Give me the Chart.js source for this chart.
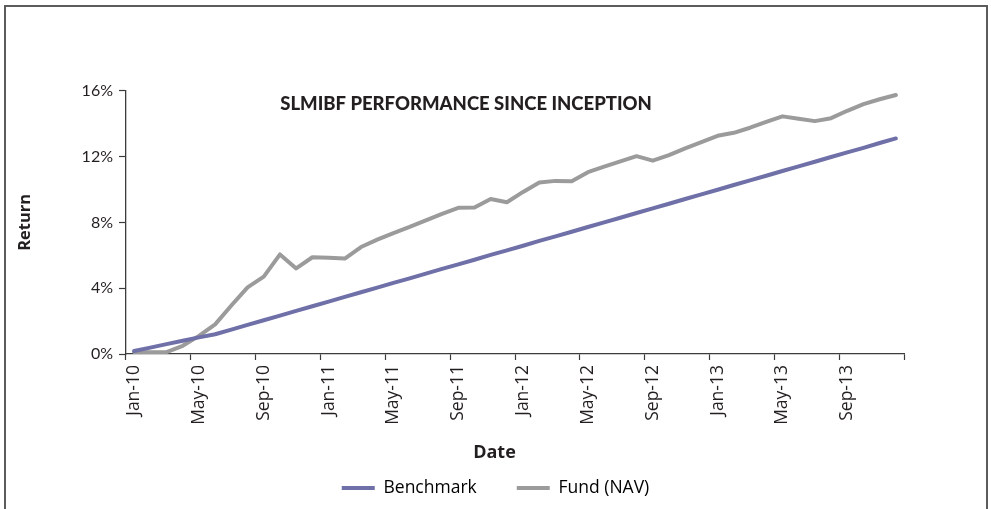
<!DOCTYPE html>
<html>
<head>
<meta charset="utf-8">
<script src="https://cdn.jsdelivr.net/npm/chart.js@4.4.1/dist/chart.umd.min.js"></script>
<style>
html,body{margin:0;padding:0;background:#fff;}
#wrap{position:relative;width:991px;height:509px;overflow:hidden;background:#fff;}
#frame{position:absolute;left:4px;top:5px;width:980px;height:520px;border:2px solid #5c5c5c;border-bottom:none;}
#c{position:absolute;left:0;top:0;}
</style>
</head>
<body>
<div id="wrap"><div id="frame"></div><canvas id="c" width="991" height="509"></canvas></div>
<script>
const categories = [
  'Jan-10','Feb-10','Mar-10','Apr-10','May-10','Jun-10','Jul-10','Aug-10','Sep-10','Oct-10','Nov-10','Dec-10',
  'Jan-11','Feb-11','Mar-11','Apr-11','May-11','Jun-11','Jul-11','Aug-11','Sep-11','Oct-11','Nov-11','Dec-11',
  'Jan-12','Feb-12','Mar-12','Apr-12','May-12','Jun-12','Jul-12','Aug-12','Sep-12','Oct-12','Nov-12','Dec-12',
  'Jan-13','Feb-13','Mar-13','Apr-13','May-13','Jun-13','Jul-13','Aug-13','Sep-13','Oct-13','Nov-13','Dec-13'
];
const benchmark = [
  0.18, 0.39, 0.60, 0.81, 1.01, 1.20, 1.48, 1.77, 2.05, 2.33, 2.62, 2.90,
  3.18, 3.47, 3.75, 4.03, 4.32, 4.60, 4.88, 5.17, 5.45, 5.73, 6.02, 6.30,
  6.58, 6.87, 7.15, 7.43, 7.72, 8.00, 8.28, 8.57, 8.85, 9.13, 9.42, 9.70,
  9.98, 10.27, 10.55, 10.83, 11.12, 11.40, 11.68, 11.97, 12.25, 12.53, 12.82, 13.10
];
const fund = [
  0.12, 0.10, 0.12, 0.50, 1.10, 1.80, 2.95, 4.05, 4.70, 6.05, 5.20, 5.88,
  5.85, 5.80, 6.50, 6.95, 7.35, 7.72, 8.12, 8.52, 8.88, 8.90, 9.42, 9.22,
  9.85, 10.42, 10.52, 10.50, 11.05, 11.38, 11.70, 12.02, 11.75, 12.08, 12.50, 12.88,
  13.26, 13.44, 13.75, 14.10, 14.44, 14.30, 14.15, 14.33, 14.78, 15.18, 15.48, 15.74
];
const shownTickLabels = ['Jan-10','May-10','Sep-10','Jan-11','May-11','Sep-11','Jan-12','May-12','Sep-12','Jan-13','May-13','Sep-13'];
const yTicks = [0, 4, 8, 12, 16];

const TEXT = '#231f20';
const AXIS = '#3c3c3c';

const placer = {
  id: 'placer',
  afterLayout(chart) {
    const t = chart.titleBlock;
    if (t) { t.left = 0; t.right = 932; t.top = 92.5; t.bottom = t.top + t.height; }
    const l = chart.legend;
    if (l) { l.left = 0; l.right = 991; l.top = 439.25; l.bottom = l.top + l.height; }
  },
  beforeDraw(chart) {
    const sx = chart.scales.x;
    if (sx && !sx.__shifted) {
      const orig = sx.drawTitle;
      sx.drawTitle = function () {
        this.ctx.save();
        this.ctx.translate(-20.5, 0);
        orig.apply(this, arguments);
        this.ctx.restore();
      };
      sx.__shifted = true;
    }
  }
};

new Chart(document.getElementById('c'), {
  type: 'line',
  data: {
    labels: categories,
    datasets: [
      { label: 'Benchmark', data: benchmark, borderColor: '#6f70a8', backgroundColor: '#6f70a8',
        borderWidth: 4, pointRadius: 0, pointHoverRadius: 0, tension: 0, fill: false,
        borderJoinStyle: 'round', borderCapStyle: 'round' },
      { label: 'Fund (NAV)', data: fund, borderColor: '#9b9b9b', backgroundColor: '#9b9b9b',
        borderWidth: 4, pointRadius: 0, pointHoverRadius: 0, tension: 0, fill: false,
        borderJoinStyle: 'round', borderCapStyle: 'round' }
    ]
  },
  options: {
    responsive: false,
    animation: false,
    devicePixelRatio: 1,
    layout: { padding: { left: 11, right: 87, top: 68.5, bottom: 7.5 } },
    plugins: {
      title: {
        display: true, position: 'top',
        text: 'SLMIBF PERFORMANCE SINCE INCEPTION',
        color: TEXT, font: { family: 'Lato', weight: '900', size: 18.5 },
        padding: { top: 0, bottom: 0 }
      },
      legend: {
        position: 'bottom',
        labels: {
          boxWidth: 33, boxHeight: 4, padding: 40, color: TEXT,
          font: { family: 'Open Sans', size: 17.5 },
          generateLabels(chart) {
            return chart.data.datasets.map((d, i) => ({
              text: d.label, fillStyle: d.borderColor, strokeStyle: d.borderColor,
              lineWidth: 0, hidden: !chart.isDatasetVisible(i), datasetIndex: i
            }));
          }
        }
      },
      tooltip: { enabled: false }
    },
    scales: {
      x: {
        type: 'category', offset: true,
        grid: {
          display: true, offset: true, drawOnChartArea: false, drawTicks: true,
          tickLength: 6, tickWidth: 1.2, color: 'rgba(0,0,0,0)',
          tickColor: ctx => (ctx.type !== 'tick' || ctx.index % 4 === 0) ? AXIS : 'rgba(0,0,0,0)'
        },
        border: { display: true, color: AXIS, width: 1.3 },
        ticks: {
          autoSkip: false, maxRotation: 90, minRotation: 90, padding: 5, color: TEXT,
          font: { family: 'Open Sans', size: 17.5 },
          callback(v, i) { const l = categories[i]; return shownTickLabels.includes(l) ? l : ''; }
        },
        title: {
          display: true, text: 'Date', color: TEXT,
          font: { family: 'Open Sans', weight: 'bold', size: 18 },
          padding: { top: 0, bottom: -29.8 }
        },
        afterFit(s) { s.height = 80; }
      },
      y: {
        min: 0, max: 16,
        afterBuildTicks(s) { s.ticks = yTicks.map(v => ({ value: v })); },
        ticks: { padding: 6, color: TEXT, font: { family: 'Lato', size: 16 }, callback: v => v + '%' },
        grid: { drawOnChartArea: false, tickLength: 7, tickColor: AXIS, tickWidth: 1.2 },
        border: { display: true, color: AXIS, width: 1.3 },
        title: {
          display: true, text: 'Return', color: TEXT,
          font: { family: 'Open Sans', weight: 'bold', size: 16.5 },
          padding: { top: 4, bottom: 4 }
        },
        afterFit(s) { s.width = 115; }
      }
    }
  },
  plugins: [placer]
});
</script>
</body>
</html>
